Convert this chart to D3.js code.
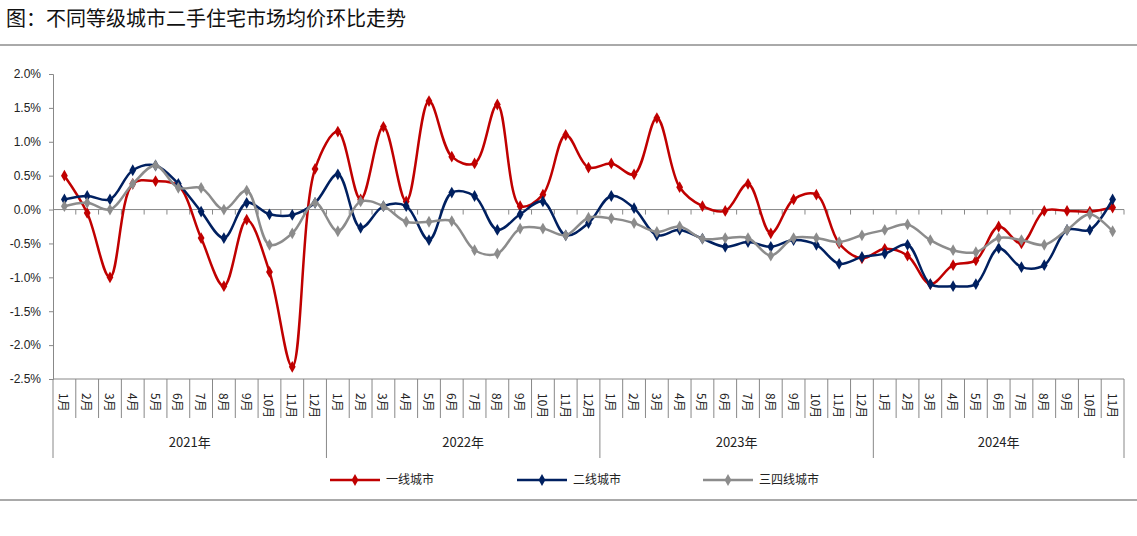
<!DOCTYPE html>
<html>
<head>
<meta charset="utf-8">
<script src="https://cdn.jsdelivr.net/npm/d3@7"></script>
<style>
  body { margin: 0; background: #fff; font-family: "Noto Sans CJK SC", sans-serif; }
</style>
</head>
<body>
<div id="chart"></div>
<script>
const years = ["2021年", "2022年", "2023年", "2024年"];
const monthsPerYear = [12, 12, 12, 11];
const tier1 = [0.5, -0.05, -1.0, 0.38, 0.42, 0.35, -0.42, -1.13, -0.15, -0.92, -2.32, 0.6,
  1.15, 0.15, 1.22, 0.12, 1.6, 0.78, 0.68, 1.55, 0.05, 0.22, 1.1, 0.62,
  0.68, 0.52, 1.35, 0.33, 0.05, -0.02, 0.38, -0.35, 0.15, 0.22, -0.5, -0.72,
  -0.58, -0.68, -1.1, -0.82, -0.75, -0.25, -0.5, -0.02, -0.02, -0.03, 0.03];
const tier2 = [0.15, 0.2, 0.15, 0.58, 0.65, 0.38, -0.03, -0.42, 0.1, -0.07, -0.08, 0.1,
  0.52, -0.27, 0.05, 0.05, -0.45, 0.25, 0.2, -0.3, -0.07, 0.12, -0.38, -0.2,
  0.2, 0.02, -0.38, -0.3, -0.43, -0.55, -0.48, -0.55, -0.45, -0.52, -0.8, -0.7,
  -0.65, -0.52, -1.1, -1.13, -1.1, -0.57, -0.85, -0.82, -0.3, -0.3, 0.15];
const tier34 = [0.05, 0.1, 0.0, 0.38, 0.65, 0.32, 0.32, 0.0, 0.28, -0.52, -0.35, 0.1,
  -0.32, 0.12, 0.05, -0.18, -0.18, -0.17, -0.6, -0.65, -0.28, -0.28, -0.38, -0.12,
  -0.13, -0.2, -0.33, -0.25, -0.43, -0.42, -0.42, -0.68, -0.42, -0.42, -0.48, -0.38,
  -0.3, -0.22, -0.45, -0.6, -0.63, -0.42, -0.45, -0.52, -0.3, -0.07, -0.32];
const yTicks = [2.0, 1.5, 1.0, 0.5, 0.0, -0.5, -1.0, -1.5, -2.0, -2.5];

const series = [
  { name: "一线城市", values: tier1, color: "#c00000" },
  { name: "二线城市", values: tier2, color: "#002060" },
  { name: "三四线城市", values: tier34, color: "#8c8c8c" }
];

// month categories
const cats = [];
years.forEach((yr, yi) => {
  for (let m = 1; m <= monthsPerYear[yi]; m++) cats.push({ year: yr, yi, label: m + "月", key: yi + "-" + m });
});

const W = 1137, H = 536;
const plotLeft = 53, plotRight = 1124, plotTop = 74, plotBottom = 379;

const svg = d3.select("#chart").append("svg").attr("width", W).attr("height", H);

// title
svg.append("text").attr("x", 6).attr("y", 26)
  .style("font-size", "20px").style("fill", "#111")
  .text("图：不同等级城市二手住宅市场均价环比走势");
svg.append("line").attr("x1", 0).attr("x2", W).attr("y1", 45).attr("y2", 45)
  .attr("stroke", "#555").attr("stroke-width", 1);
svg.append("line").attr("x1", 0).attr("x2", W).attr("y1", 500).attr("y2", 500)
  .attr("stroke", "#555").attr("stroke-width", 1);

const x = d3.scaleBand().domain(cats.map(d => d.key)).range([plotLeft, plotRight]);
const y = d3.scaleLinear().domain([-2.5, 2.0]).range([plotBottom, plotTop]);

// y axis
const yAxis = svg.append("g").attr("transform", `translate(${plotLeft},0)`)
  .call(d3.axisLeft(y).tickValues(yTicks).tickSize(4).tickFormat(d => d.toFixed(1) + "%"));
yAxis.selectAll("path, line").attr("stroke", "#888");
yAxis.selectAll("text").style("font-size", "12px").style("fill", "#222")
  .style("font-family", "Liberation Sans, sans-serif").attr("x", -12);

// zero axis with ticks at band boundaries
svg.append("line").attr("x1", plotLeft).attr("x2", plotRight).attr("y1", y(0)).attr("y2", y(0))
  .attr("stroke", "#888");
svg.append("g").selectAll("line").data(cats).join("line")
  .attr("x1", d => x(d.key) + x.bandwidth()).attr("x2", d => x(d.key) + x.bandwidth())
  .attr("y1", y(0)).attr("y2", y(0) + 5).attr("stroke", "#888");

// bottom category axis
svg.append("line").attr("x1", plotLeft).attr("x2", plotRight).attr("y1", plotBottom).attr("y2", plotBottom).attr("stroke", "#888");
svg.append("g").selectAll("line").data(cats).join("line")
  .attr("x1", d => x(d.key)).attr("x2", d => x(d.key))
  .attr("y1", plotBottom).attr("y2", d => (d.label === "1月" ? 458 : 418))
  .attr("stroke", "#888");
svg.append("line").attr("x1", plotRight).attr("x2", plotRight).attr("y1", plotBottom).attr("y2", 458).attr("stroke", "#888");
svg.append("g").selectAll("text").data(cats).join("text")
  .attr("transform", d => `translate(${x(d.key) + x.bandwidth() / 2 - 5},${plotBottom + 14}) rotate(90)`)
  .style("font-size", "12px").style("fill", "#222")
  .text(d => d.label);

// year labels
years.forEach((yr, yi) => {
  const ks = cats.filter(c => c.yi === yi);
  const x0 = x(ks[0].key), x1 = x(ks[ks.length - 1].key) + x.bandwidth();
  svg.append("text").attr("x", (x0 + x1) / 2).attr("y", 447)
    .attr("text-anchor", "middle").style("font-size", "13px").style("fill", "#222").text(yr);
});

// lines
const line = d3.line()
  .x((d, i) => x(cats[i].key) + x.bandwidth() / 2)
  .y(d => y(d))
  .curve(d3.curveCatmullRom.alpha(0.5));
const diamond = d3.symbol().type(d3.symbolDiamond).size(40);

series.forEach(s => {
  svg.append("path").datum(s.values).attr("d", line)
    .attr("fill", "none").attr("stroke", s.color).attr("stroke-width", 2.5);
  svg.append("g").selectAll("path").data(s.values).join("path")
    .attr("d", diamond)
    .attr("transform", (d, i) => `translate(${x(cats[i].key) + x.bandwidth() / 2},${y(d)})`)
    .attr("fill", s.color);
});

// legend
const legendX = [330, 517, 703];
series.forEach((s, i) => {
  const g = svg.append("g").attr("transform", `translate(${legendX[i]},480)`);
  g.append("line").attr("x1", 0).attr("x2", 50).attr("stroke", s.color).attr("stroke-width", 2.5);
  g.append("path").attr("d", diamond).attr("transform", "translate(25,0)").attr("fill", s.color);
  g.append("text").attr("x", 56).attr("y", 4).style("font-size", "12px").style("fill", "#222").text(s.name);
});
</script>
</body>
</html>
